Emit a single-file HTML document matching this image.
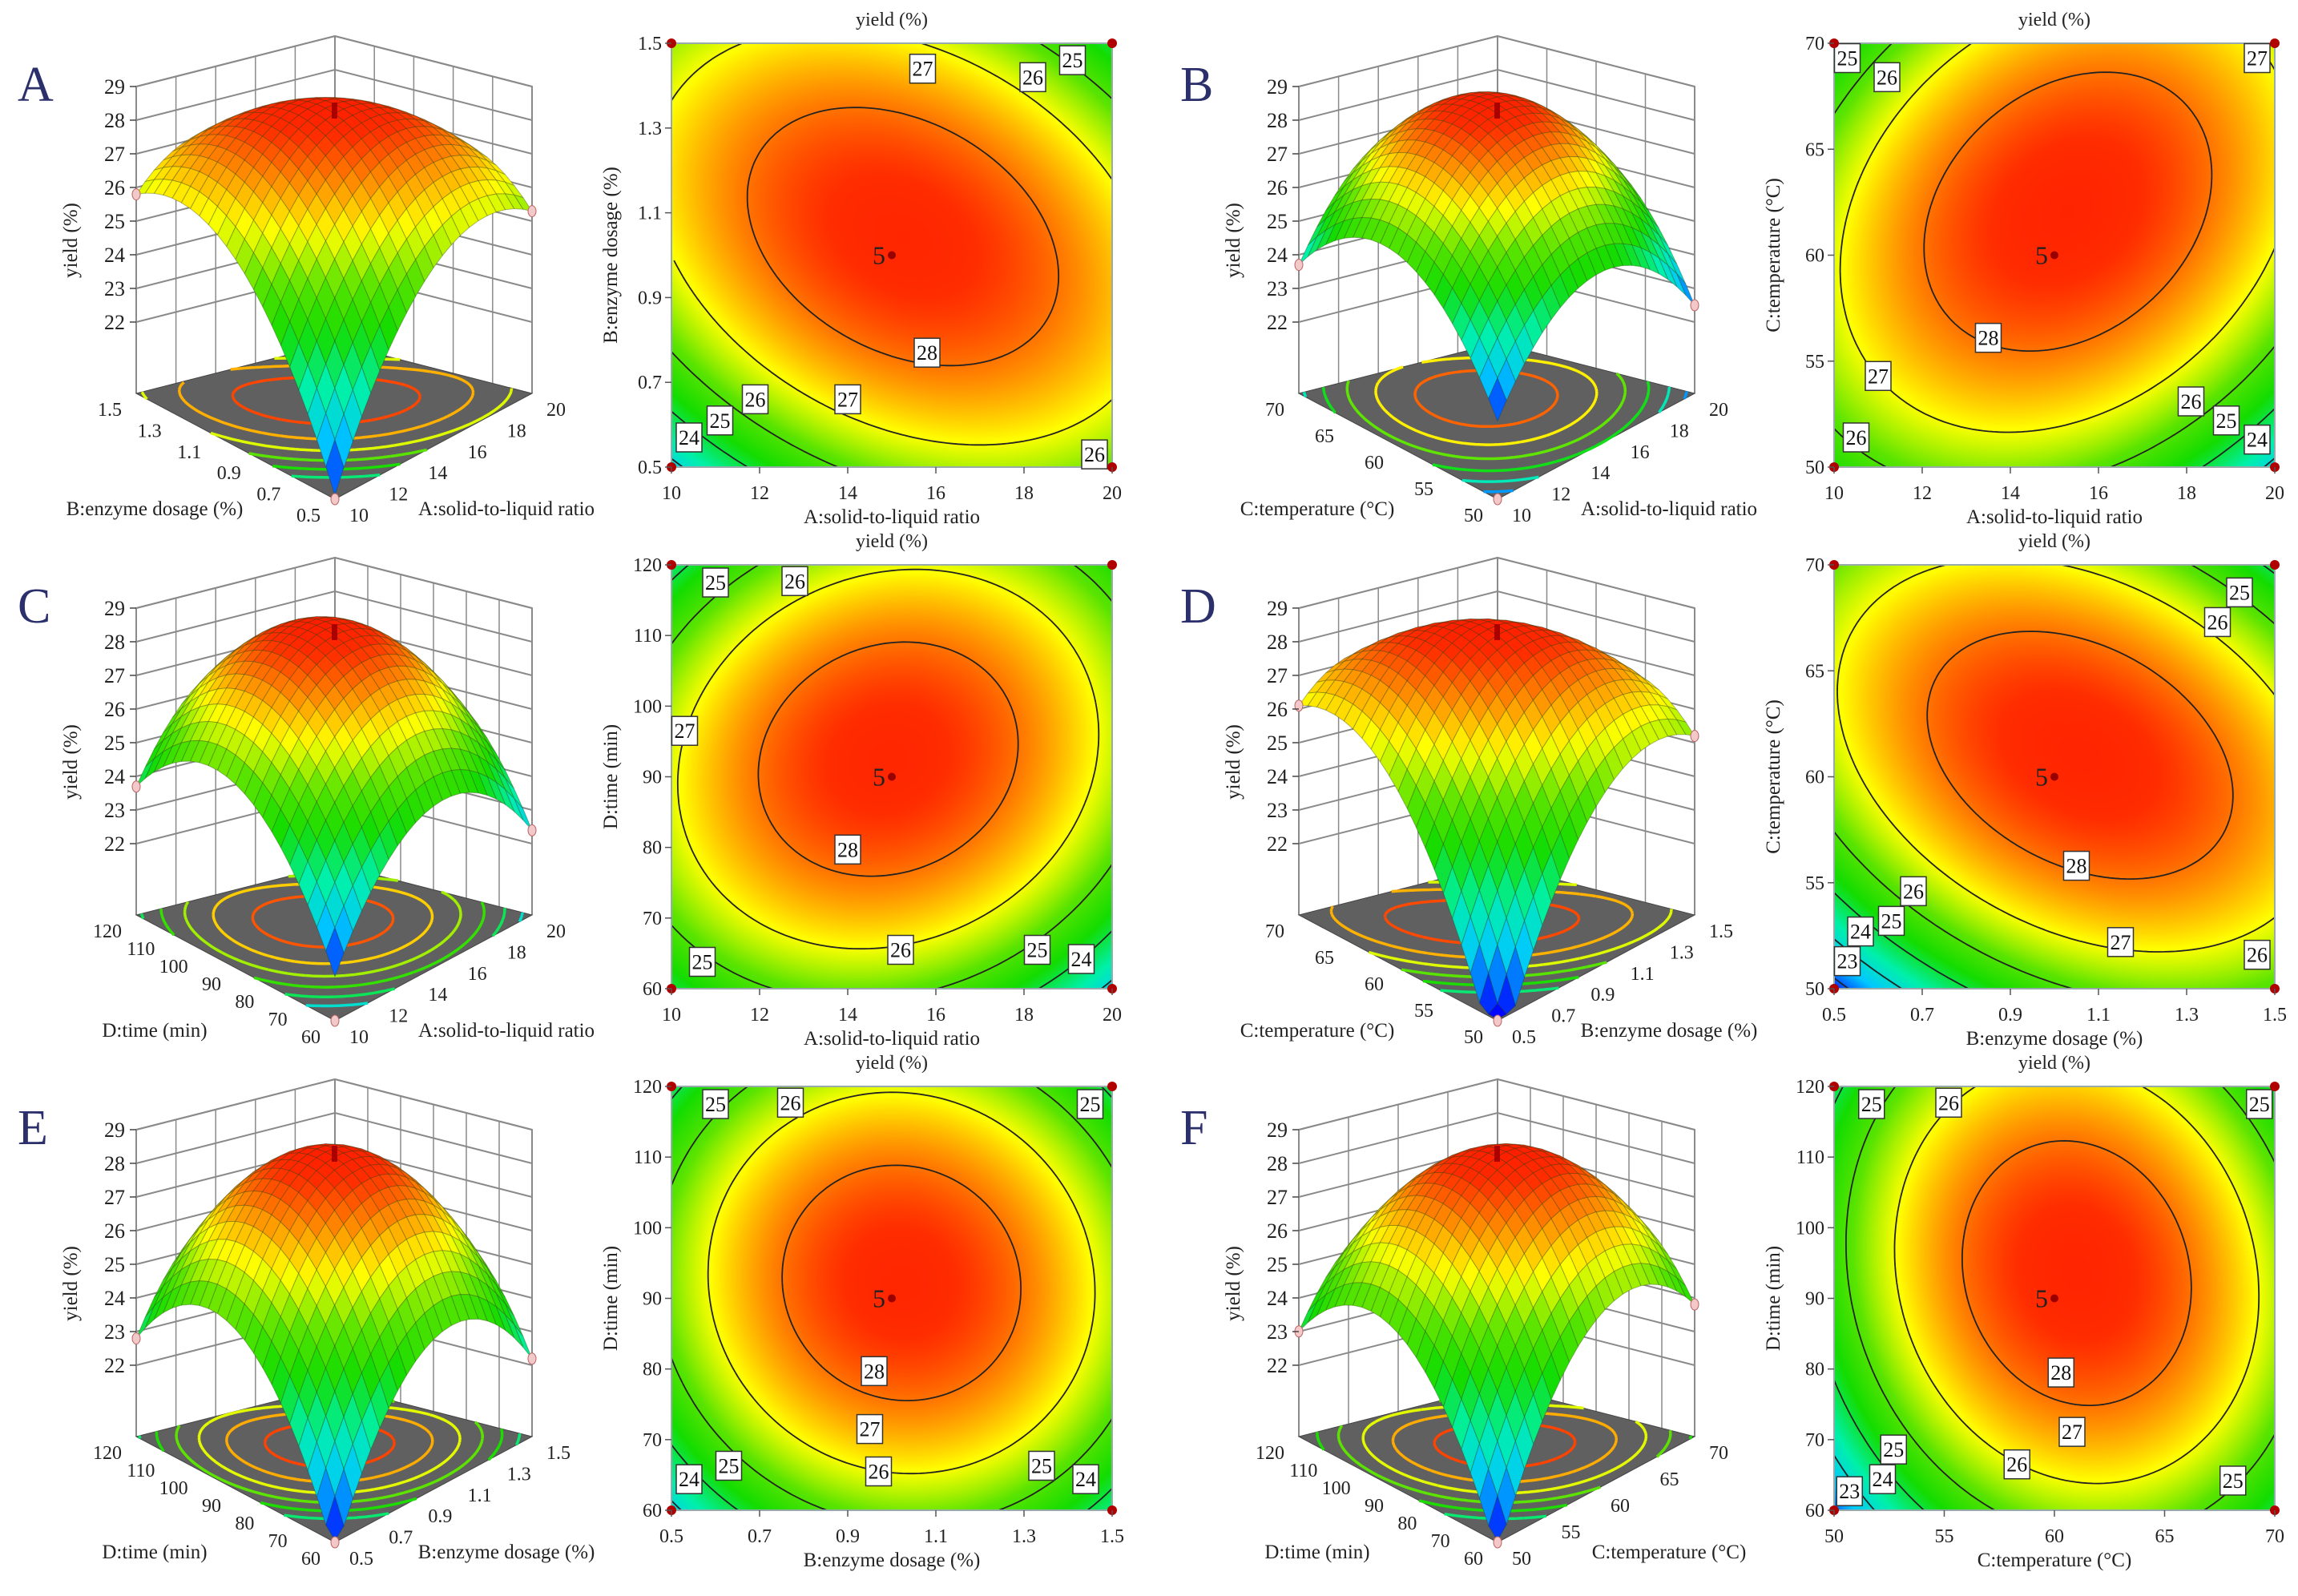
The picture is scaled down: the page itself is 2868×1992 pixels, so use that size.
<!DOCTYPE html>
<html><head><meta charset="utf-8"><style>
html,body{margin:0;padding:0;background:#fff}
#root{position:relative;width:2868px;height:1992px;overflow:hidden;background:#fff;font-family:"Liberation Serif",serif}
canvas{position:absolute}
svg{position:absolute;left:0;top:0}
</style></head><body>
<div id="root">
<svg id="svg" width="2868" height="1992"></svg>
</div>
<script>
// ---------- data ----------
const panelLetters=['A','B','C','D','E','F'];
const xVar=[0,0,0,1,1,2];
const yVar=[1,2,3,2,3,3];
const varNames=['A:solid-to-liquid ratio','B:enzyme dosage (%)','C:temperature (°C)','D:time (min)'];
const varMin=[10,0.5,50,60];
const varMax=[20,1.5,70,120];
const varTicks=[[10,12,14,16,18,20],[0.5,0.7,0.9,1.1,1.3,1.5],[50,55,60,65,70],[60,70,80,90,100,110,120]];
const varTickText=[['10','12','14','16','18','20'],['0.5','0.7','0.9','1.1','1.3','1.5'],['50','55','60','65','70'],['60','70','80','90','100','110','120']];
// contour model coefficients (coded units)
const cB0=[28.6,28.6,28.6,28.6,28.6,28.6];
const cB1=[0.225,0.025,-0.1,0.475,0.2,0.55];
const cB2=[0.375,0.625,0.35,0.575,0.3,0.45];
const cB11=[-1.375,-1.675,-1.8,-1.525,-2.1,-2.45];
const cB22=[-1.85,-1.65,-2.05,-2.15,-2.0,-1.7];
const cB12=[-0.975,0.875,0.5,-1.175,-0.2,-0.45];
// 3D surface model coefficients
const sB0=[28.6,28.6,28.6,28.6,28.6,28.6];
const sB1=[0.625,0.4,0.375,0.65,0.475,0.825];
const sB2=[0.875,1.0,1.025,1.1,0.775,0.425];
const sB11=[-2.54,-2.625,-2.89,-2.825,-3.49,-3.26];
const sB22=[-2.54,-2.625,-2.89,-2.825,-3.49,-3.26];
const sB12=[-2.025,0.25,-0.225,-2.7,-0.875,-1.325];
const contourLevels=[23,24,25,26,27,28];
const zTicks=[22,23,24,25,26,27,28,29];
// contour label positions (data units) and values
const labX=[[15.7,18.2,19.1,15.8,14.0,11.9,11.1,10.4,19.6],[10.3,11.2,19.6,13.5,11.0,10.5,18.1,18.9,19.6],[11.0,12.8,10.3,14.0,15.2,10.7,18.3,19.3],[1.42,1.37,1.05,1.15,1.46,0.68,0.63,0.56,0.53],[0.6,0.77,1.45,0.96,0.95,0.97,0.63,0.54,1.34,1.44],[51.7,55.2,69.3,60.3,60.8,58.3,52.7,52.2,50.7,68.1]];
const labY=[[1.44,1.42,1.46,0.77,0.66,0.66,0.61,0.57,0.53],[69.3,68.4,69.3,56.1,54.3,51.4,53.1,52.2,51.3],[117.5,117.7,96.5,79.7,65.5,63.8,65.5,64.2],[68.7,67.3,55.8,52.2,51.6,54.6,53.2,52.7,51.3],[117.5,117.7,117.5,79.7,71.5,65.5,66.3,64.4,66.3,64.4],[117.5,117.7,117.5,79.5,71.1,66.5,68.6,64.4,62.7,64.2]];
const labV=[['27','26','25','28','27','26','25','24','26'],['25','26','27','28','27','26','26','25','24'],['25','26','27','28','26','25','25','24'],['25','26','28','27','26','26','25','24','23'],['25','26','25','28','27','26','25','24','25','24'],['25','26','25','28','27','26','25','24','23','25']];

// ---------- helpers ----------
const NS='http://www.w3.org/2000/svg';
const svg=document.getElementById('svg');
const root=document.getElementById('root');
function el(tag,attrs,parent){const e=document.createElementNS(NS,tag);for(const k in attrs)e.setAttribute(k,attrs[k]);(parent||svg).appendChild(e);return e;}
const stops=[[0,[0,0,255]],[0.16,[0,200,255]],[0.3,[0,240,170]],[0.45,[20,220,0]],[0.58,[90,228,0]],[0.72,[255,255,0]],[0.84,[255,145,0]],[0.95,[255,45,0]],[1,[255,30,0]]];
function cmap(t){t=Math.max(0,Math.min(1,t));for(let i=1;i<stops.length;i++){if(t<=stops[i][0]){const a=stops[i-1],b=stops[i];const f=(t-a[0])/(b[0]-a[0]);return [0,1,2].map(k=>Math.round(a[1][k]+(b[1][k]-a[1][k])*f));}}return stops[stops.length-1][1];}
function rgb(c){return 'rgb('+c[0]+','+c[1]+','+c[2]+')';}
function model(B,p,x,y){return B[0][p]+B[1][p]*x+B[2][p]*y+B[3][p]*x*x+B[4][p]*y*y+B[5][p]*x*y;}
const CB=[cB0,cB1,cB2,cB11,cB22,cB12], SB=[sB0,sB1,sB2,sB11,sB22,sB12];
function marching(f,n,level){const g=[];for(let j=0;j<=n;j++){g[j]=[];for(let i=0;i<=n;i++)g[j][i]=f(-1+2*i/n,-1+2*j/n);}
 const segs=[];
 for(let j=0;j<n;j++)for(let i=0;i<n;i++){
  const c=[[i,j,g[j][i]],[i+1,j,g[j][i+1]],[i+1,j+1,g[j+1][i+1]],[i,j+1,g[j+1][i]]];const pts=[];
  for(let k=0;k<4;k++){const a=c[k],b=c[(k+1)%4];if((a[2]-level)*(b[2]-level)<0){const t=(level-a[2])/(b[2]-a[2]);pts.push([-1+2*(a[0]+(b[0]-a[0])*t)/n,-1+2*(a[1]+(b[1]-a[1])*t)/n]);}}
  if(pts.length===2)segs.push([pts[0],pts[1]]);else if(pts.length===4){segs.push([pts[0],pts[1]]);segs.push([pts[2],pts[3]]);}
 }return segs;}

const OX=[0,1451], OY=[0,651,1302];
for(let p=0;p<6;p++){
 const ox=OX[p%2], oy=OY[Math.floor(p/2)];
 const xv=xVar[p], yv=yVar[p];
 const g=el('g',{});
 const lt=el('text',{x:ox+22,y:oy+126,'font-size':62,fill:'#2b2f6b','font-family':'Liberation Serif, serif'},g);lt.textContent=panelLetters[p];
 

 // ---------- contour plot ----------
 const bx=ox+838, by=oy+54, bw=550, bh=529;
 const cv=document.createElement('canvas');cv.width=bw;cv.height=bh;cv.style.left=bx+'px';cv.style.top=by+'px';
 
 root.insertBefore(cv,svg);
 const ctx=cv.getContext('2d');const im=ctx.createImageData(bw,bh);
 for(let j=0;j<bh;j++)for(let i=0;i<bw;i++){const x=-1+2*i/(bw-1),y=1-2*j/(bh-1);const v=model(CB,p,x,y);const c=cmap((v-22.5)/(28.8-22.5));const k=(j*bw+i)*4;im.data[k]=c[0];im.data[k+1]=c[1];im.data[k+2]=c[2];im.data[k+3]=255;}
 ctx.putImageData(im,0,0);
 const cg=el('g',{},g);
 const X=x=>bx+(x+1)/2*bw, Y=y=>by+(1-y)/2*bh;
 contourLevels.forEach(L=>{const segs=marching((a,b)=>model(CB,p,a,b),80,L);if(!segs.length)return;let d='';segs.forEach(s=>{d+='M'+X(s[0][0]).toFixed(1)+' '+Y(s[0][1]).toFixed(1)+'L'+X(s[1][0]).toFixed(1)+' '+Y(s[1][1]).toFixed(1);});
  const pa=el('path',{d:d,stroke:'#222',"stroke-width":1.8,fill:'none'},cg);});
 el('rect',{x:bx,y:by,width:bw,height:bh,fill:'none',stroke:'#9aa',"stroke-width":2,},cg);
 labV[p].forEach((t,i)=>{const xx=bx+(labX[p][i]-varMin[xv])/(varMax[xv]-varMin[xv])*bw, yy=by+(1-(labY[p][i]-varMin[yv])/(varMax[yv]-varMin[yv]))*bh;
  const lg=el('g',{},cg);
  el('rect',{x:xx-16,y:yy-18,width:32,height:36,fill:'#fff',stroke:'#333',"stroke-width":1.5},lg);
  const tx=el('text',{x:xx,y:yy+9,'font-size':26,'text-anchor':'middle',fill:'#111'},lg);tx.textContent=t;});
 [[bx,by],[bx+bw,by],[bx,by+bh],[bx+bw,by+bh]].forEach(c=>{const d=el('circle',{cx:c[0],cy:c[1],r:6,fill:'#b00000'},cg);});
 const cd=el('circle',{cx:bx+bw/2,cy:by+bh/2,r:5,fill:'#900'},cg);
 const c5=el('text',{x:bx+bw/2-8,y:by+bh/2+11,'font-size':32,'text-anchor':'end',fill:'#222'},cg);c5.textContent='5';
 const tt=el('text',{x:bx+bw/2,y:by-22,'font-size':24,'text-anchor':'middle',fill:'#222'},cg);tt.textContent='yield (%)';
 varTicks[xv].forEach((v,i)=>{const xx=bx+(v-varMin[xv])/(varMax[xv]-varMin[xv])*bw;el('line',{x1:xx,y1:by+bh,x2:xx,y2:by+bh+8,stroke:'#555',"stroke-width":1.5},cg);
  const t=el('text',{x:xx,y:by+bh+40,'font-size':24,'text-anchor':'middle',fill:'#222'},cg);t.textContent=varTickText[xv][i];});
 varTicks[yv].forEach((v,i)=>{const yy=by+(1-(v-varMin[yv])/(varMax[yv]-varMin[yv]))*bh;el('line',{x1:bx-8,y1:yy,x2:bx,y2:yy,stroke:'#555',"stroke-width":1.5},cg);
  const t=el('text',{x:bx-12,y:yy+8,'font-size':24,'text-anchor':'end',fill:'#222'},cg);t.textContent=varTickText[yv][i];});
 const xt=el('text',{x:bx+bw/2,y:by+bh+70,'font-size':25,'text-anchor':'middle',fill:'#222'},cg);xt.textContent=varNames[xv];
 const yt=el('text',{x:0,y:0,'font-size':25,'text-anchor':'middle',fill:'#222',transform:'translate('+(bx-68)+','+(by+bh/2)+') rotate(-90)'},cg);yt.textContent=varNames[yv];

 // ---------- 3D surface ----------
 const sg=el('g',{},g);
 const F=[ox+418,oy+623],R=[ox+664,oy+491],Lc=[ox+170,oy+491],Bk=[ox+418,oy+428];
 const zf=19.88, zs=42;
 function P(u,v,z){const t=(u+1)/2,s=(v+1)/2;const fx=F[0]*(1-t)*(1-s)+R[0]*t*(1-s)+Lc[0]*(1-t)*s+Bk[0]*t*s;const fy=F[1]*(1-t)*(1-s)+R[1]*t*(1-s)+Lc[1]*(1-t)*s+Bk[1]*t*s;return [fx,fy-(z-zf)*zs];}
 const pt=a=>a[0].toFixed(1)+','+a[1].toFixed(1);
 const wc='#8a8a8a';
 zTicks.forEach(z=>{el('polyline',{points:pt(P(-1,1,z))+' '+pt(P(1,1,z))+' '+pt(P(1,-1,z)),fill:'none',stroke:wc,"stroke-width":2},sg);});
 el('polyline',{points:pt(P(-1,1,zf))+' '+pt(P(-1,1,29))+' '+pt(P(1,1,29))+' '+pt(P(1,-1,29))+' '+pt(P(1,-1,zf)),fill:'none',stroke:wc,"stroke-width":2},sg);
 el('line',{x1:P(1,1,zf)[0],y1:P(1,1,zf)[1],x2:P(1,1,29)[0],y2:P(1,1,29)[1],stroke:wc,"stroke-width":2},sg);
 varTicks[xv].forEach(v=>{const u=-1+2*(v-varMin[xv])/(varMax[xv]-varMin[xv]);const a=P(u,1,zf),b=P(u,1,29);el('line',{x1:a[0],y1:a[1],x2:b[0],y2:b[1],stroke:wc,"stroke-width":1.5},sg);});
 varTicks[yv].forEach(v=>{const w=-1+2*(v-varMin[yv])/(varMax[yv]-varMin[yv]);const a=P(1,w,zf),b=P(1,w,29);el('line',{x1:a[0],y1:a[1],x2:b[0],y2:b[1],stroke:wc,"stroke-width":1.5},sg);});
 const fl=el('polygon',{points:[P(-1,-1,zf),P(1,-1,zf),P(1,1,zf),P(-1,1,zf)].map(pt).join(' '),fill:'#606060',stroke:'#444',"stroke-width":1},sg);
 const N=22;const Z=[];let zmin=1e9,zmax=-1e9;
 for(let j=0;j<=N;j++){Z[j]=[];for(let i=0;i<=N;i++){let z=model(SB,p,-1+2*i/N,-1+2*j/N);if(z<zf+0.05)z=zf+0.05;Z[j][i]=z;zmin=Math.min(zmin,z);zmax=Math.max(zmax,z);}}
 contourLevels.forEach(Lv=>{const segs=marching((a,b)=>model(SB,p,a,b),60,Lv);if(!segs.length)return;let d='';segs.forEach(s=>{const a=P(s[0][0],s[0][1],zf),b=P(s[1][0],s[1][1],zf);d+='M'+pt(a)+'L'+pt(b);});
  const pa=el('path',{d:d.replace(/,/g,' '),stroke:rgb(cmap((Lv-zmin)/(zmax-zmin))),"stroke-width":3.5,fill:'none'},sg);});
 const quads=[];for(let j=0;j<N;j++)for(let i=0;i<N;i++)quads.push([i,j]);
 quads.sort((a,b)=>(b[0]+b[1])-(a[0]+a[1]));
 const mg=el('g',{},sg);
 quads.forEach(q=>{const i=q[0],j=q[1];const u0=-1+2*i/N,u1=-1+2*(i+1)/N,v0=-1+2*j/N,v1=-1+2*(j+1)/N;
  const zavg=(Z[j][i]+Z[j][i+1]+Z[j+1][i]+Z[j+1][i+1])/4;
  el('polygon',{points:[P(u0,v0,Z[j][i]),P(u1,v0,Z[j][i+1]),P(u1,v1,Z[j+1][i+1]),P(u0,v1,Z[j+1][i])].map(pt).join(' '),fill:rgb(cmap((zavg-zmin)/(zmax-zmin))),stroke:'rgba(40,60,20,0.35)',"stroke-width":1},mg);});
 const top=P(0,0,model(SB,p,0,0));
 el('line',{x1:top[0],y1:top[1]-14,x2:top[0],y2:top[1]+6,stroke:'#a00',"stroke-width":7},sg);
 const lp=P(-1,1,Z[N][0]),rp=P(1,-1,Z[0][N]),fp=P(-1,-1,zf);
 [lp,rp,fp].forEach(c=>{const d=el('ellipse',{cx:c[0],cy:c[1],rx:5,ry:7,fill:'#f3c8c8',stroke:'#b66',"stroke-width":1},sg);});
 zTicks.forEach(z=>{const a=P(-1,1,z);el('line',{x1:a[0]-8,y1:a[1],x2:a[0],y2:a[1],stroke:'#444',"stroke-width":1.5},sg);
  const t=el('text',{x:a[0]-14,y:a[1]+9,'font-size':26,'text-anchor':'end',fill:'#222'},sg);t.textContent=String(z);});
 const zt=el('text',{x:0,y:0,'font-size':25,'text-anchor':'middle',fill:'#222',transform:'translate('+(ox+96)+','+(oy+300)+') rotate(-90)'},sg);zt.textContent='yield (%)';
 varTicks[yv].forEach((v,i)=>{const w=-1+2*(v-varMin[yv])/(varMax[yv]-varMin[yv]);const a=P(-1,w,zf);
  const t=el('text',{x:a[0]-18,y:a[1]+28,'font-size':24,'text-anchor':'end',fill:'#222'},sg);t.textContent=varTickText[yv][i];});
 varTicks[xv].forEach((v,i)=>{const u=-1+2*(v-varMin[xv])/(varMax[xv]-varMin[xv]);const a=P(u,-1,zf);
  const t=el('text',{x:a[0]+18,y:a[1]+28,'font-size':24,'text-anchor':'start',fill:'#222'},sg);t.textContent=varTickText[xv][i];});
 const t1=el('text',{x:ox+193,y:oy+643,'font-size':25,'text-anchor':'middle',fill:'#222'},sg);t1.textContent=varNames[yv];
 const t2=el('text',{x:ox+632,y:oy+643,'font-size':25,'text-anchor':'middle',fill:'#222'},sg);t2.textContent=varNames[xv];
}
</script>
</body></html>
